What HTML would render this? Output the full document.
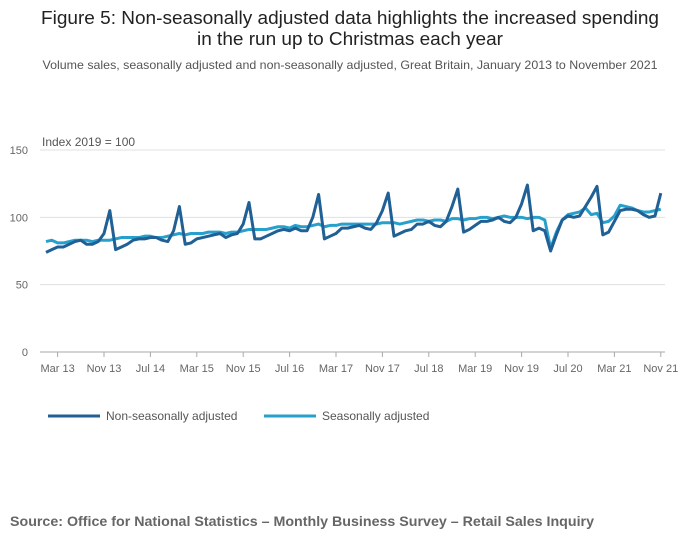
<!DOCTYPE html>
<html><head><meta charset="utf-8"><style>
body{margin:0;background:#fff;font-family:"Liberation Sans",sans-serif;}
</style></head><body>
<svg width="700" height="549" id="c" font-family="Liberation Sans, sans-serif">
<text x="350" y="24" text-anchor="middle" font-size="18" fill="#222" textLength="618" lengthAdjust="spacingAndGlyphs">Figure 5: Non-seasonally adjusted data highlights the increased spending</text>
<text x="350" y="45" text-anchor="middle" font-size="18" fill="#222" textLength="306" lengthAdjust="spacingAndGlyphs">in the run up to Christmas each year</text>
<text x="350" y="69" text-anchor="middle" font-size="12" fill="#555" textLength="615" lengthAdjust="spacingAndGlyphs">Volume sales, seasonally adjusted and non-seasonally adjusted, Great Britain, January 2013 to November 2021</text>
<text x="42" y="146" font-size="12" fill="#555">Index 2019 = 100</text>
<g id="grid"></g><g id="xax"></g><g id="series"></g>
<g>
<line x1="48" y1="416" x2="100" y2="416" stroke="#206095" stroke-width="3"/>
<text x="106" y="420" font-size="12" fill="#555">Non-seasonally adjusted</text>
<line x1="264" y1="416" x2="316" y2="416" stroke="#27a0cc" stroke-width="3"/>
<text x="322" y="420" font-size="12" fill="#555">Seasonally adjusted</text>
</g>
<text x="10" y="526" font-size="14" font-weight="bold" fill="#666" textLength="584" lengthAdjust="spacingAndGlyphs">Source: Office for National Statistics – Monthly Business Survey – Retail Sales Inquiry</text>
</svg>
<script>
const nsa=[74,76,78,78,80,82,83,80,80,82,88,105,
76,78,80,83,84,84,85,85,83,82,90,108,
80,81,84,85,86,87,88,85,87,88,95,111,
84,84,86,88,90,91,90,92,90,90,100,117,
84,86,88,92,92,93,94,92,91,96,105,118,
86,88,90,91,95,95,97,94,93,97,108,121,
89,91,94,97,97,98,100,97,96,100,110,124,
90,92,90,75,87,98,101,100,101,108,115,123,
87,89,97,105,106,106,105,102,100,101,118];
const sa=[82,83,81,81,82,83,83,83,82,83,83,83,
84,85,85,85,85,86,86,85,85,86,87,88,
87,88,88,88,89,89,89,88,89,89,90,91,
91,91,91,92,93,93,92,94,93,93,94,95,
93,94,94,95,95,95,95,95,95,95,96,96,
96,95,96,97,98,98,97,98,98,97,99,99,
98,99,99,100,100,99,100,101,100,100,100,99,
100,100,98,77,89,98,102,103,104,107,102,103,
96,97,101,109,108,107,105,104,104,105,106];
const yTicks=[0,50,100,150];
const xLabels=["Mar 13","Nov 13","Jul 14","Mar 15","Nov 15","Jul 16","Mar 17","Nov 17","Jul 18","Mar 19","Nov 19","Jul 20","Mar 21","Nov 21"];
const xLabelIdx=[2,10,18,26,34,42,50,58,66,74,82,90,98,106];
const NS="http://www.w3.org/2000/svg";
const X=i=>46+i*5.8, Y=v=>352-v*1.3467;
function mk(t,a,p){const e=document.createElementNS(NS,t);for(const k in a)e.setAttribute(k,a[k]);document.getElementById(p).appendChild(e);return e;}
yTicks.forEach(v=>{
const l=mk('line',{x1:40,x2:665,y1:Y(v),y2:Y(v),stroke:v?'#e0e0e0':'#aaa','stroke-width':1},'grid');


const t=mk('text',{x:28,y:Y(v)+4,'text-anchor':'end','font-size':11,fill:'#666'},'grid');t.textContent=v;


});
xLabels.forEach((s,k)=>{
const x=X(xLabelIdx[k]);
const l=mk('line',{x1:x,x2:x,y1:352,y2:357,stroke:'#aaa'},'xax');


const t=mk('text',{x:x,y:372,'text-anchor':'middle','font-size':11,fill:'#666'},'xax');t.textContent=s;


});
function line(d,c,n){const p=mk('polyline',{points:d.map((v,i)=>X(i)+','+Y(v)).join(' '),fill:'none',stroke:c,'stroke-width':3,'stroke-linejoin':'round'},'series');

}
line(sa,'#27a0cc','line-seasonally-adjusted');
line(nsa,'#206095','line-non-seasonally-adjusted');
</script>
</body></html>
